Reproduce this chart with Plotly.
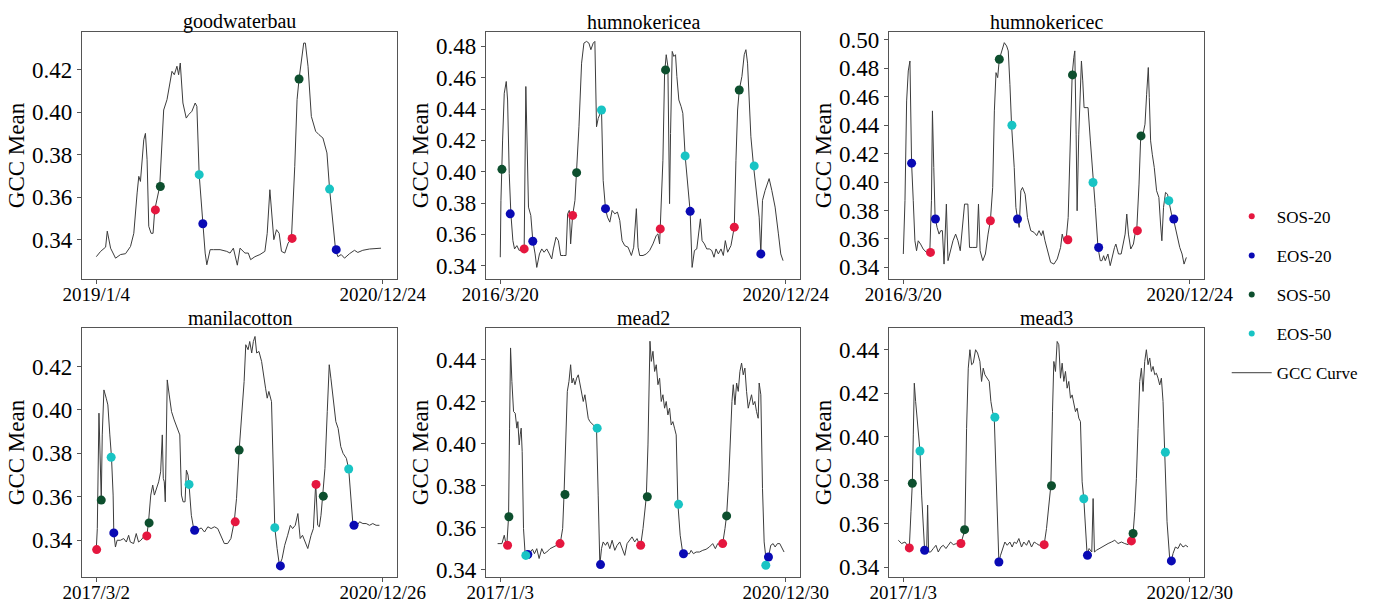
import plotly.graph_objects as go

FONT = "Liberation Serif"

# ---------------- data (time-step index, GCC mean) ----------------
site_names = ["goodwaterbau", "humnokericea", "humnokericec",
              "manilacotton", "mead2", "mead3"]
start_labels = ["2019/1/4", "2016/3/20", "2016/3/20", "2017/3/2", "2017/1/3", "2017/1/3"]
end_labels = ["2020/12/24", "2020/12/24", "2020/12/24", "2020/12/26", "2020/12/30", "2020/12/30"]
n_steps = [863, 860, 865, 868, 860, 860]
y_ranges = [(0.3215, 0.4377), (0.3315, 0.4892), (0.3318, 0.5056),
            (0.3231, 0.4377), (0.3365, 0.4551), (0.3354, 0.4500)]
y_tick_top = [0.42, 0.48, 0.50, 0.42, 0.44, 0.44]

gw_curve = [(0, .332), (13, .3345), (28, .3365), (33, .344), (43, .336), (58, .3313), (73, .333), (88, .3334),
            (103, .3368), (113, .343), (123, .362), (128, .3698), (133, .3674), (138, .3784), (143, .387),
            (148, .390), (153, .3776), (158, .3463), (165, .343), (171, .343), (176, .354), (191, .365),
            (203, .401), (213, .4059), (223, .4153), (228, .4192), (235, .4176), (243, .4216), (248, .4176),
            (253, .4231), (261, .4043), (271, .3972), (278, .3988), (288, .4004), (298, .4043), (303, .4027),
            (310, .3706), (321, .3475), (328, .3337), (333, .3282), (343, .3353), (353, .3353), (373, .3353),
            (393, .3345), (403, .3337), (413, .336), (425, .328), (433, .336), (448, .3337), (458, .3337),
            (465, .3306), (478, .332), (493, .333), (508, .3345), (515, .343), (523, .3635), (528, .3533),
            (535, .34), (543, .3447), (551, .343), (558, .3345), (568, .3337), (578, .3384), (588, .3403),
            (598, .3745), (605, .4059), (611, .4156), (618, .4247), (625, .4325), (630, .4325), (638, .4216),
            (648, .398), (661, .391), (671, .3894), (683, .3878), (695, .3808), (703, .3638), (721, .3353),
            (728, .332), (738, .333), (748, .3313), (763, .3334), (778, .335), (788, .334), (803, .335),
            (823, .3356), (843, .336), (858, .336)]
gw_sos20 = [(178, .354), (590, .3406)]
gw_eos20 = [(321, .3475), (723, .3353)]
gw_sos50 = [(193, .365), (611, .4156)]
gw_eos50 = [(310, .3706), (703, .3638)]

ha_curve = [(0, .3454), (2, .3817), (7, .4202), (12, .4501), (18, .4576), (22, .4458), (27, .3988), (32, .3731),
            (38, .356), (43, .3507), (50, .3528), (57, .3497), (65, .3507), (72, .3507), (77, .4544), (80, .4202),
            (85, .3774), (92, .3721), (98, .356), (105, .3475), (110, .3389), (118, .3475), (125, .3507),
            (132, .3486), (140, .3507), (148, .3475), (155, .3443), (160, .3507), (168, .3582), (175, .356),
            (182, .3465), (190, .3465), (198, .3465), (203, .3731), (208, .3753), (212, .3539), (218, .3721),
            (225, .3817), (230, .3994), (237, .4287), (245, .4693), (252, .4821), (260, .4832), (267, .4821),
            (273, .4779), (280, .4821), (285, .4832), (290, .4287), (295, .434), (300, .4373), (305, .4394),
            (310, .3945), (317, .3764), (323, .371), (330, .3678), (337, .3753), (345, .3731), (353, .3742),
            (360, .3689), (367, .356), (375, .3528), (385, .3518), (395, .3465), (402, .3518), (410, .3764),
            (415, .3518), (420, .3465), (430, .3465), (440, .3475), (450, .3497), (460, .3539), (470, .3593),
            (475, .3603), (480, .3539), (482, .3635), (490, .4073), (495, .4629), (500, .4747), (505, .4672),
            (510, .3796), (513, .4244), (518, .4768), (523, .4736), (528, .4747), (532, .4608), (538, .4458),
            (545, .4415), (550, .4373), (557, .4101), (565, .3903), (572, .3747), (578, .3389), (585, .3497),
            (592, .3507), (598, .3603), (603, .3699), (608, .356), (615, .3539), (622, .3507), (630, .3507),
            (637, .3497), (644, .3454), (650, .3507), (657, .3475), (665, .3507), (672, .3465), (678, .356),
            (685, .3486), (695, .3528), (705, .3646), (710, .4073), (715, .4394), (720, .4522), (728, .4608),
            (735, .4747), (740, .4779), (745, .4693), (750, .4394), (755, .4223), (763, .4037), (772, .3881),
            (780, .371), (785, .3482), (790, .3817), (798, .3881), (805, .3934), (810, .3956), (818, .3881),
            (828, .3774), (838, .3603), (845, .3475), (852, .3432)]
ha_sos20 = [(72, .3507), (218, .3721), (482, .3635), (705, .3646)]
ha_eos20 = [(30, .3731), (98, .3556), (317, .3764), (572, .3747), (785, .3475)]
ha_sos50 = [(5, .4015), (230, .3994), (498, .465), (720, .4522)]
ha_eos50 = [(305, .4394), (557, .4101), (765, .4037)]

hc_curve = [(0, .3494), (5, .3869), (10, .4571), (15, .4782), (20, .4852), (25, .4133), (30, .3869), (35, .3587),
            (40, .3517), (45, .3587), (52, .3564), (60, .3529), (70, .3505), (80, .3505), (85, .3869), (88, .4501),
            (92, .4103), (96, .3751), (102, .3681), (108, .3634), (113, .3658), (118, .3658), (123, .3423),
            (130, .3845), (135, .3447), (142, .3517), (150, .3587), (158, .3634), (165, .3587), (172, .3517),
            (178, .3681), (185, .3845), (195, .3845), (200, .354), (208, .354), (217, .354), (222, .354),
            (227, .3845), (232, .3517), (240, .3447), (248, .3494), (256, .3634), (263, .3728), (270, .3962),
            (275, .4501), (280, .477), (285, .4735), (290, .4864), (298, .4923), (305, .4981), (312, .4958),
            (317, .4923), (322, .4688), (327, .44), (335, .4103), (340, .3822), (345, .374), (350, .3681),
            (355, .3939), (360, .3962), (368, .3915), (375, .3751), (385, .3658), (395, .3646), (403, .3623),
            (410, .3658), (417, .3623), (422, .3658), (428, .3587), (435, .3517), (445, .3435), (455, .3423),
            (465, .3459), (475, .354), (480, .3634), (485, .3587), (492, .3599), (498, .3751), (505, .4337),
            (510, .4754), (515, .4876), (518, .4923), (522, .4337), (525, .3798), (530, .4337), (535, .4759),
            (538, .4852), (542, .4712), (546, .4524), (552, .4524), (558, .4524), (565, .429), (573, .3997),
            (580, .3822), (588, .354), (595, .3447), (600, .3447), (605, .3482), (610, .3447), (618, .3494),
            (625, .3412), (632, .3494), (638, .354), (642, .3564), (650, .3494), (658, .3494), (665, .3564),
            (670, .3634), (675, .3775), (680, .3634), (687, .3529), (695, .3564), (700, .3634), (705, .3658),
            (712, .3986), (717, .4314), (723, .4325), (730, .4407), (735, .4618), (740, .4806), (743, .4595),
            (747, .429), (752, .4196), (758, .4103), (765, .3939), (772, .3892), (777, .3705), (781, .3587),
            (786, .3822), (792, .3927), (798, .3915), (802, .3869), (810, .3775), (816, .374), (825, .3634),
            (835, .354), (842, .3494), (848, .3423), (855, .347)]
hc_sos20 = [(82, .3505), (263, .3728), (497, .3594), (707, .3658)]
hc_eos20 = [(25, .4133), (97, .374), (345, .374), (590, .354), (817, .374)]
hc_sos50 = [(290, .4864), (511, .4754), (718, .4325)]
hc_eos50 = [(328, .44), (573, .3997), (802, .3869)]

mc_curve = [(0, .3362), (3, .3454), (8, .3985), (11, .3762), (15, .3585), (18, .3885), (23, .4092), (30, .4054),
            (35, .4023), (41, .3885), (46, .3782), (51, .3608), (53, .3434), (58, .3369), (63, .34), (73, .34),
            (83, .3408), (91, .3392), (98, .3423), (103, .3392), (113, .3385), (121, .3431), (128, .3392),
            (135, .34), (143, .3415), (153, .342), (158, .348), (165, .3608), (171, .3654), (176, .3608),
            (183, .3638), (189, .3669), (195, .3715), (200, .3885), (203, .3685), (206, .3669), (209, .3577),
            (215, .4138), (221, .4069), (228, .3992), (236, .3954), (243, .3923), (253, .3885), (258, .3608),
            (263, .3577), (269, .3577), (273, .3723), (278, .37), (281, .3657), (288, .3515), (296, .3446),
            (306, .3446), (318, .3457), (328, .3438), (338, .3462), (348, .3454), (358, .3462), (368, .3454),
            (378, .3423), (388, .3385), (398, .3385), (408, .3408), (418, .3485), (425, .3592), (433, .3815),
            (441, .3962), (448, .4131), (453, .43), (460, .4277), (465, .4315), (471, .4262), (476, .4315),
            (481, .4338), (486, .4262), (493, .4269), (501, .4223), (508, .4162), (513, .41), (518, .4054),
            (523, .4085), (531, .4038), (535, .3838), (541, .3458), (548, .3362), (555, .3285), (563, .3315),
            (571, .3377), (580, .3423), (588, .3469), (595, .3454), (603, .3469), (611, .3523), (618, .3408),
            (625, .3423), (633, .3392), (641, .3362), (651, .3423), (658, .3454), (665, .3662), (671, .3469),
            (676, .3462), (681, .3515), (686, .3603), (693, .3731), (700, .3992), (706, .4208), (711, .4146),
            (718, .4038), (726, .3946), (733, .3915), (741, .3831), (748, .38), (758, .3777), (765, .3728),
            (773, .3577), (778, .3469), (788, .3462), (798, .3485), (808, .3477), (818, .3477), (828, .3469),
            (838, .3477), (848, .3469), (858, .3469)]
mc_sos20 = [(1, .3357), (153, .342), (421, .3485), (666, .3657)]
mc_eos20 = [(53, .3434), (298, .3446), (558, .3282), (781, .3469)]
mc_sos50 = [(15, .3585), (160, .348), (433, .3815), (688, .3603)]
mc_eos50 = [(45, .3782), (281, .3657), (541, .3458), (765, .3728)]

m2_curve = [(-8, .3524), (5, .3524), (12, .3564), (16, .3532), (20, .3524), (25, .3652), (28, .4074), (31, .4456),
            (35, .4297), (40, .4153), (45, .4145), (50, .4074), (53, .4105), (57, .3994), (60, .4042), (63, .4074),
            (66, .3962), (70, .3596), (75, .3472), (82, .3472), (90, .3484), (97, .3497), (103, .3476), (110, .35),
            (117, .3453), (125, .35), (132, .3476), (140, .3484), (150, .35), (160, .3508), (170, .3516),
            (180, .3519), (188, .3596), (192, .3755), (197, .4026), (202, .4249), (207, .4297), (212, .4376),
            (216, .4289), (220, .4312), (225, .4281), (230, .4312), (235, .4328), (240, .4281), (245, .4233),
            (250, .4201), (255, .4233), (260, .4185), (265, .4121), (270, .4105), (275, .4097), (280, .4089),
            (290, .4074), (295, .3755), (300, .3424), (305, .35), (310, .3532), (317, .3516), (323, .3532),
            (330, .35), (337, .354), (345, .3492), (352, .3516), (360, .3532), (368, .35), (375, .3468),
            (382, .3524), (390, .354), (397, .3556), (405, .3532), (412, .3548), (418, .3524), (423, .3516),
            (430, .3596), (435, .3675), (440, .3747), (445, .3994), (448, .4312), (451, .4488), (455, .4392),
            (460, .444), (465, .4344), (470, .4376), (475, .4281), (480, .4312), (485, .4201), (490, .4233),
            (495, .4169), (500, .4201), (505, .4137), (510, .4169), (515, .4089), (520, .4105), (525, .4074),
            (530, .4042), (535, .3715), (542, .3564), (550, .3476), (560, .3476), (570, .3476), (575, .3492),
            (582, .3476), (590, .3484), (600, .3484), (610, .3492), (620, .3497), (630, .3508), (640, .3524),
            (648, .35), (655, .3524), (662, .3516), (670, .3524), (677, .3596), (682, .366), (688, .3819),
            (693, .4042), (698, .4201), (702, .4281), (707, .4185), (712, .4289), (717, .4249), (722, .4344),
            (727, .4384), (732, .4328), (737, .436), (742, .4249), (747, .4169), (752, .4201), (757, .4233),
            (762, .4185), (767, .4201), (772, .4153), (777, .4121), (780, .4289), (785, .4233), (790, .3787),
            (795, .3532), (800, .346), (808, .346), (815, .3516), (822, .3524), (828, .3508), (835, .3524),
            (842, .3524), (850, .35), (855, .3484)]
m2_sos20 = [(22, .3516), (180, .3524), (423, .3516), (670, .3524)]
m2_eos20 = [(83, .3472), (302, .3424), (552, .3476), (808, .346)]
m2_sos50 = [(26, .3652), (195, .3758), (443, .3747), (682, .3656)]
m2_eos50 = [(77, .3468), (292, .4074), (537, .3711), (800, .3421)]

m3_curve = [(-15, .3523), (-5, .3508), (5, .3515), (12, .35), (18, .3488), (23, .3654), (27, .3785), (30, .4008),
            (33, .4246), (37, .4162), (42, .4069), (45, .4038), (50, .3934), (55, .3731), (60, .3577), (64, .3477),
            (70, .3469), (73, .3685), (76, .3469), (82, .3469), (90, .3485), (98, .35), (105, .3469), (113, .3492),
            (120, .35), (128, .3485), (135, .35), (142, .3515), (150, .3503), (160, .3508), (173, .3508),
            (180, .3554), (185, .3572), (190, .4038), (195, .4315), (200, .44), (205, .4331), (210, .4338),
            (217, .44), (223, .4385), (230, .4346), (235, .4254), (240, .4315), (245, .4285), (252, .4269),
            (258, .4254), (263, .4162), (268, .4115), (273, .4092), (280, .3731), (287, .3423), (292, .3454),
            (298, .3485), (305, .3515), (312, .35), (320, .3515), (327, .3492), (333, .3515), (340, .3508),
            (347, .3531), (355, .3492), (362, .3515), (370, .35), (377, .3523), (385, .3492), (393, .3515),
            (400, .3508), (408, .35), (415, .3503), (423, .3503), (430, .3577), (437, .37), (443, .3774),
            (448, .4115), (452, .4346), (457, .43), (462, .4438), (467, .4423), (472, .4269), (477, .4338),
            (482, .4254), (487, .43), (492, .4223), (497, .4254), (502, .4177), (507, .4192), (512, .4146),
            (517, .4115), (522, .4131), (527, .4085), (532, .4069), (537, .3792), (542, .3714), (548, .3577),
            (552, .3457), (558, .3485), (566, .3469), (570, .3715), (574, .3469), (580, .3477), (588, .3485),
            (595, .3488), (605, .35), (615, .3508), (625, .3515), (635, .3523), (645, .3508), (655, .3515),
            (665, .3508), (675, .3503), (683, .352), (690, .3554), (695, .3654), (700, .3808), (705, .4038),
            (710, .4254), (715, .4315), (720, .4208), (725, .4346), (730, .44), (735, .4331), (740, .4362),
            (745, .43), (750, .4323), (755, .4285), (760, .4292), (765, .4269), (770, .4238), (775, .4269),
            (780, .4162), (785, .3928), (792, .3608), (800, .3438), (805, .3428), (810, .3462), (817, .3492),
            (825, .3485), (832, .3508), (840, .3492), (848, .35), (855, .3492)]
m3_sos20 = [(18, .3488), (173, .3508), (423, .3503), (685, .352)]
m3_eos20 = [(64, .3477), (287, .3423), (553, .3454), (805, .3428)]
m3_sos50 = [(27, .3785), (184, .3572), (445, .3774), (690, .3554)]
m3_eos50 = [(50, .3934), (275, .4089), (542, .3714), (787, .3928)]

curves = [gw_curve, ha_curve, hc_curve, mc_curve, m2_curve, m3_curve]
sos20 = [gw_sos20, ha_sos20, hc_sos20, mc_sos20, m2_sos20, m3_sos20]
eos20 = [gw_eos20, ha_eos20, hc_eos20, mc_eos20, m2_eos20, m3_eos20]
sos50 = [gw_sos50, ha_sos50, hc_sos50, mc_sos50, m2_sos50, m3_sos50]
eos50 = [gw_eos50, ha_eos50, hc_eos50, mc_eos50, m2_eos50, m3_eos50]

series_names = ["SOS-20", "EOS-20", "SOS-50", "EOS-50"]
series_colors = ["#e5173f", "#0a0ab4", "#0d4f2e", "#18c4c4"]
curve_color = "#3c3c3c"

# ---------------- layout geometry ----------------
W, H = 1394, 606
col_px = [(82, 397), (486, 800), (889, 1204)]
row_px = [(32, 279), (328, 577)]

fig = go.Figure()
layout = dict(
    width=W, height=H, margin=dict(l=0, r=0, t=0, b=0, autoexpand=False),
    paper_bgcolor="white", plot_bgcolor="white",
    font=dict(family=FONT, color="black"),
    showlegend=True,
    legend=dict(x=0.880, y=0.672, xanchor="left", yanchor="top", itemwidth=40,
                font=dict(size=17, family=FONT, color="black"), tracegroupgap=14,
                bgcolor="rgba(0,0,0,0)", borderwidth=0),
)
annotations = []

for i, name in enumerate(site_names):
    r, c = divmod(i, 3)
    ax = "" if i == 0 else str(i + 1)
    x0, x1 = col_px[c]
    y0, y1 = row_px[r]
    xd = [x0 / W, x1 / W]
    yd = [1 - y1 / H, 1 - y0 / H]
    n = n_steps[i]
    ylo, yhi = y_ranges[i]
    ticks = []
    v = 0.34
    while v <= y_tick_top[i] + 1e-9:
        ticks.append(round(v, 2))
        v += 0.02
    layout["xaxis" + ax] = dict(
        domain=xd, anchor="y" + ax, range=[-0.05 * n, 1.05 * n], automargin=False,
        tickvals=[0, n], ticktext=[start_labels[i], end_labels[i]],
        showline=True, mirror=True, linecolor="#555555", linewidth=1.3,
        ticks="outside", ticklen=4, tickcolor="#555555", showgrid=False, zeroline=False,
        ticklabelstandoff=-6,
        tickfont=dict(size=19, family=FONT, color="black"))
    layout["yaxis" + ax] = dict(
        domain=yd, anchor="x" + ax, range=[ylo, yhi], automargin=False,
        tickvals=ticks, ticktext=["%.2f" % t for t in ticks],
        showline=True, mirror=True, linecolor="#555555", linewidth=1.3,
        ticks="outside", ticklen=4, tickcolor="#555555", showgrid=False, zeroline=False,
        tickfont=dict(size=23, family=FONT, color="black"),
        title=dict(text="GCC Mean", font=dict(size=23, family=FONT, color="black"), standoff=0))
    annotations.append(dict(
        text=name, x=(xd[0] + xd[1]) / 2, y=yd[1], xref="paper", yref="paper",
        xanchor="center", yanchor="bottom", showarrow=False, yshift=-3,
        font=dict(size=20, family=FONT, color="black")))

    cx = [p[0] for p in curves[i]]
    cy = [p[1] for p in curves[i]]
    fig.add_trace(go.Scatter(x=cx, y=cy, mode="lines", line=dict(color=curve_color, width=1),
                             xaxis="x" + ax, yaxis="y" + ax, showlegend=False, hoverinfo="skip"))
    for sname, scol, pts in zip(series_names, series_colors, [sos20[i], eos20[i], sos50[i], eos50[i]]):
        fig.add_trace(go.Scatter(x=[p[0] for p in pts], y=[p[1] for p in pts], mode="markers",
                                 marker=dict(color=scol, size=9),
                                 xaxis="x" + ax, yaxis="y" + ax, showlegend=False, name=sname))

# legend entries
for sname, scol in zip(series_names, series_colors):
    fig.add_trace(go.Scatter(x=[None], y=[None], mode="markers", marker=dict(color=scol, size=6),
                             name=sname, legendgroup=sname, showlegend=True))
fig.add_trace(go.Scatter(x=[None], y=[None], mode="lines", line=dict(color=curve_color, width=1),
                         name="GCC Curve", legendgroup="curve", showlegend=True))

layout["annotations"] = annotations
fig.update_layout(**layout)
fig.write_html("out.html")
